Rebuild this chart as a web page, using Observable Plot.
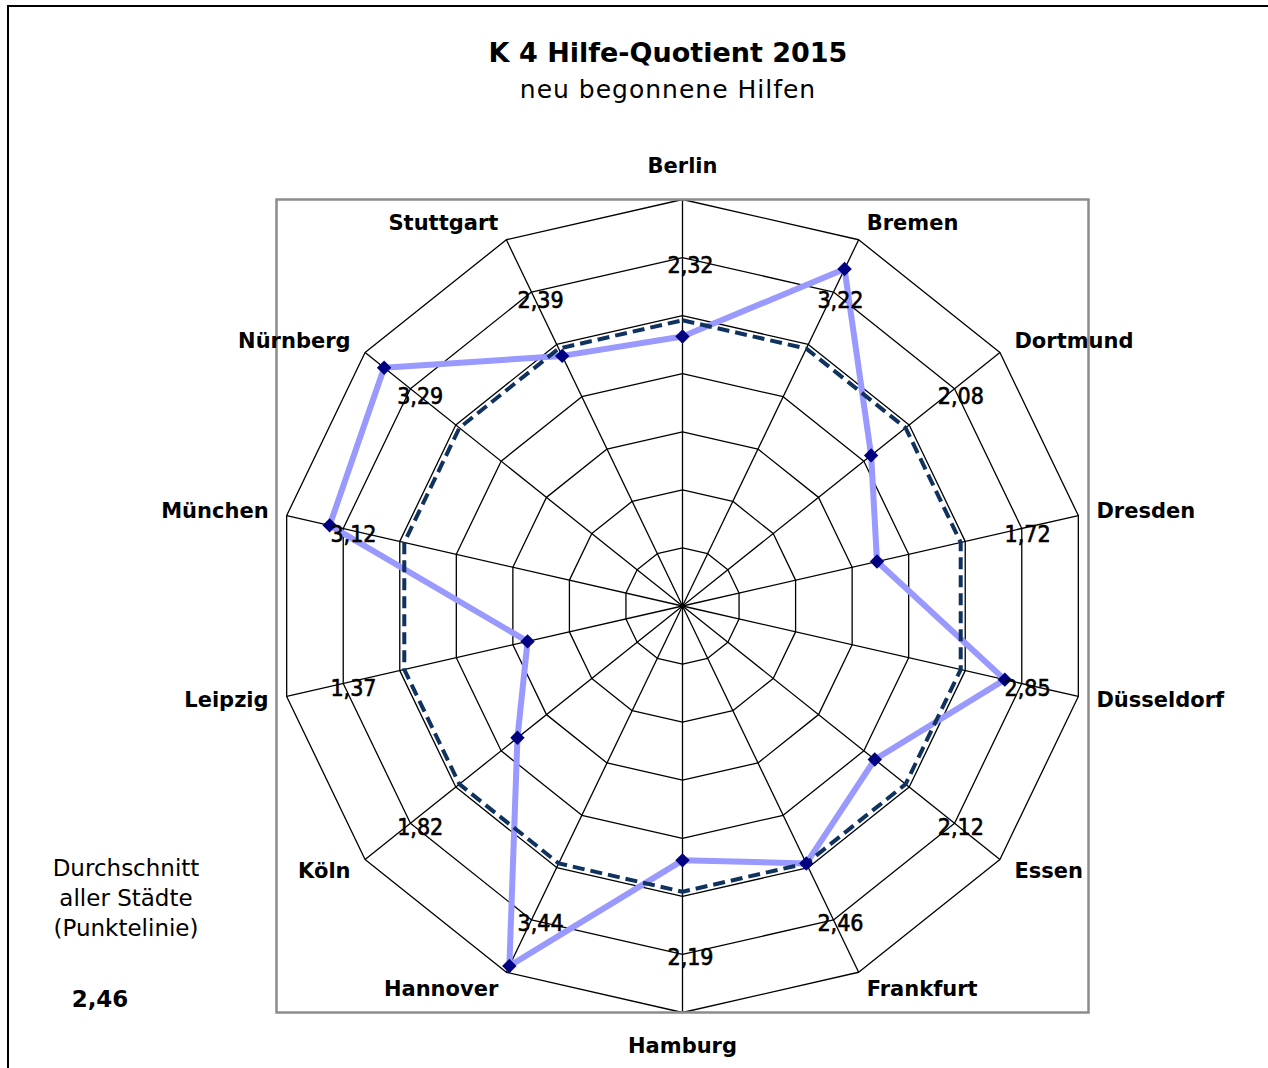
<!DOCTYPE html>
<html>
<head>
<meta charset="utf-8">
<script src="https://cdn.jsdelivr.net/npm/d3@7"></script>
<script src="https://cdn.jsdelivr.net/npm/@observablehq/plot@0.6"></script>
<style>
  html, body { margin: 0; padding: 0; background: #fff; overflow: hidden; }
  #wrap { position: relative; width: 1268px; height: 1068px; overflow: hidden; font-family: "DejaVu Sans", sans-serif; color: #000; }
  #border { position: absolute; left: 7px; top: 5px; width: 1400px; height: 1200px; border-left: 2px solid #000; border-top: 2px solid #000; pointer-events: none; }
  #header { position: relative; height: 120px; }
  .ctr { position: absolute; left: 668px; transform: translateX(-50%); white-space: nowrap; }
  #title { top: 39px; font-size: 27px; line-height: 27px; font-weight: bold; }
  #subtitle { top: 77px; font-size: 25px; line-height: 25px; letter-spacing: 1px; }
  #note { position: absolute; left: 126px; top: 853px; transform: translateX(-50%); text-align: center; font-size: 23px; line-height: 30px; white-space: nowrap; }
  #avgval { position: absolute; left: 100px; top: 984px; transform: translateX(-50%); font-size: 23px; line-height: 30px; font-weight: bold; white-space: nowrap; }
  #chart svg { display: block; }
</style>
</head>
<body>
<div id="wrap">
  <div id="border"></div>
  <div id="header">
    <div id="title" class="ctr">K 4 Hilfe-Quotient 2015</div>
    <div id="subtitle" class="ctr">neu begonnene Hilfen</div>
  </div>
  <div id="chart"></div>
  <div id="note">Durchschnitt<br>aller Städte<br>(Punktelinie)</div>
  <div id="avgval"></div>
</div>
<script>
// ---- Data ----
const cities = ["Berlin", "Bremen", "Dortmund", "Dresden", "Düsseldorf", "Essen", "Frankfurt",
                "Hamburg", "Hannover", "Köln", "Leipzig", "München", "Nürnberg", "Stuttgart"];
const values = [2.32, 3.22, 2.08, 1.72, 2.85, 2.12, 2.46, 2.19, 3.44, 1.82, 1.37, 3.12, 3.29, 2.39];
const average = 2.46;
const ringLevels = [0.5, 1, 1.5, 2, 2.5, 3, 3.5];
const rMax = 3.5;

// ---- Helpers (polar -> cartesian in data units) ----
const n = cities.length;
const ang = i => i * 2 * Math.PI / n;
const px = (r, i) => r * Math.sin(ang(i));
const py = (r, i) => r * Math.cos(ang(i));
const idx = d3.range(n);
const closed = [...idx, 0];
const fmt = v => v.toFixed(2).replace(".", ",");

const ringData = ringLevels.flatMap(level => closed.map(i => ({level, x: px(level, i), y: py(level, i)})));
const spokeData = idx.map(i => ({x1: 0, y1: 0, x2: px(rMax, i), y2: py(rMax, i)}));
const avgData = closed.map(i => ({x: px(average, i), y: py(average, i)}));
const valData = idx.map(i => ({city: cities[i], v: values[i], x: px(values[i], i), y: py(values[i], i)}));
const valLine = closed.map(i => valData[i]);
const labelR = 2.98;
const valLabels = idx.map(i => ({text: fmt(values[i]), x: px(labelR, i), y: py(labelR, i)}));
const nameR = 3.66;
const names = idx.map(i => ({i, name: cities[i], x: px(nameR, i), y: py(nameR, i), xo: px(rMax, i), yo: py(rMax, i)}));

const nameStyle = {fontSize: 21, fontWeight: "bold", fill: "#000", fontFamily: '"DejaVu Sans", sans-serif'};

const chart = Plot.plot({
  width: 1268,
  height: 948,
  marginTop: 79,
  marginBottom: 56,
  marginLeft: 276,
  marginRight: 180,
  x: {domain: [-rMax, rMax], axis: null},
  y: {domain: [-rMax, rMax], axis: null},
  style: {fontFamily: '"DejaVu Sans", sans-serif', background: "transparent", overflow: "visible"},
  marks: [
    Plot.line(ringData, {x: "x", y: "y", z: "level", stroke: "#000", strokeWidth: 1.3, strokeLinejoin: "miter"}),
    Plot.link(spokeData, {x1: "x1", y1: "y1", x2: "x2", y2: "y2", stroke: "#000", strokeWidth: 1.3}),
    Plot.frame({stroke: "#8c8c8c", strokeWidth: 2.5}),
    Plot.line(valLine, {x: "x", y: "y", stroke: "#9999FF", strokeWidth: 6, strokeLinejoin: "round"}),
    Plot.line(avgData, {x: "x", y: "y", stroke: "#10325F", strokeWidth: 4, strokeDasharray: "12,6", strokeLinecap: "butt"}),
    Plot.dot(valData, {x: "x", y: "y", symbol: "diamond2", r: 6.5, fill: "#000080", stroke: "none"}),
    Plot.text(valLabels, {x: "x", y: "y", text: "text", dx: 8, dy: 6, fontSize: 23, fill: "#000",
      stroke: "#000", strokeWidth: 0.6,
      fontFamily: '"DejaVu Sans Condensed", "DejaVu Sans", sans-serif'}),
    Plot.text(names.filter(d => d.i > 0 && d.i < 7), {x: "x", y: "y", text: "name", textAnchor: "start", ...nameStyle}),
    Plot.text(names.filter(d => d.i > 7), {x: "x", y: "y", text: "name", textAnchor: "end", ...nameStyle}),
    Plot.text(names.filter(d => d.i === 0), {x: "xo", y: "yo", text: "name", dy: -33, ...nameStyle}),
    Plot.text(names.filter(d => d.i === 7), {x: "xo", y: "yo", text: "name", dy: 34, ...nameStyle})
  ]
});
document.getElementById("chart").appendChild(chart);
document.getElementById("avgval").textContent = fmt(average);
</script>
</body>
</html>
